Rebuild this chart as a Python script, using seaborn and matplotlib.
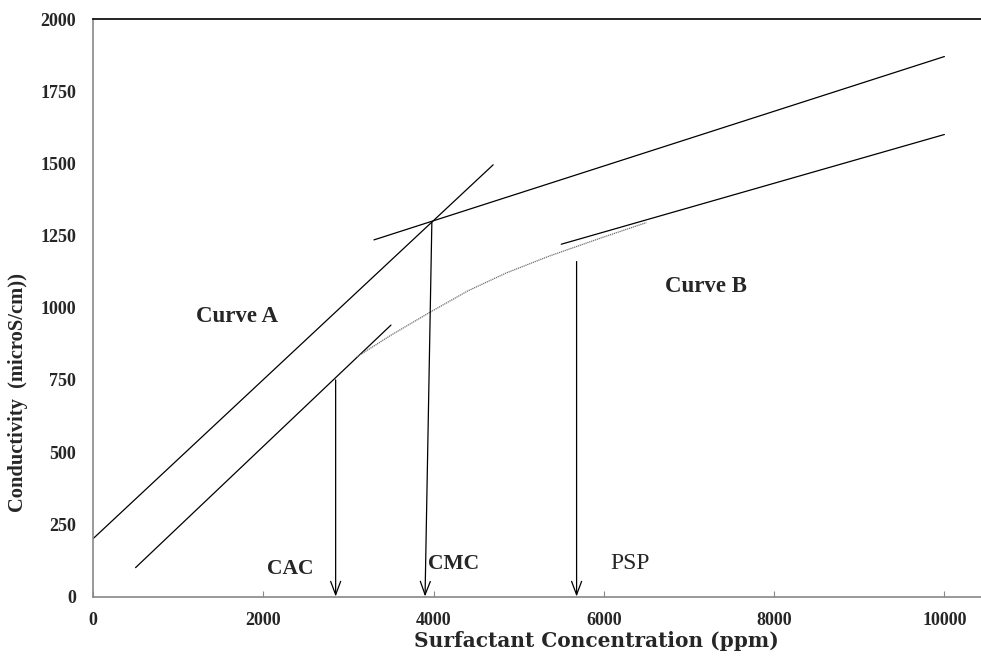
import matplotlib
matplotlib.use("Agg")
import matplotlib.pyplot as plt
import seaborn as sns
import pandas as pd

sns.set_theme(style="white")
plt.rcParams["font.family"] = ["Liberation Serif", "DejaVu Serif"]

# Straight-line fits of the conductivity data
curve_a_upper_x = [0, 4700]
curve_a_upper_y = [200, 1495]
curve_a_lower_x = [500, 3500]
curve_a_lower_y = [100, 940]
post_cmc_x = [3300, 10000]
post_cmc_y = [1235, 1870]
curve_b_x = [5500, 10000]
curve_b_y = [1220, 1600]

# Gradual transition of curve B between CAC and PSP
transition_x = [3100, 3500, 3950, 4400, 4850, 5350, 5950, 6500]
transition_y = [830, 905, 983, 1058, 1120, 1178, 1240, 1295]

# Characteristic concentrations (ppm): arrow start (x, y) and end x
cac_x, cac_top = 2850, 750
cmc_x_top, cmc_top, cmc_x_bottom = 3980, 1296, 3900
psp_x, psp_top = 5680, 1160

x_ticks = [0, 2000, 4000, 6000, 8000, 10000]
y_ticks = [0, 250, 500, 750, 1000, 1250, 1500, 1750, 2000]

fig = plt.figure(figsize=(9.81, 6.56), dpi=100)
ax = fig.add_axes([93 / 981, 1 - 596.5 / 656, 1 - 93 / 981, (596.5 - 19) / 656])

solid = dict(color="black", linewidth=0.9, estimator=None, sort=False)
for xs, ys in [(curve_a_upper_x, curve_a_upper_y),
               (curve_a_lower_x, curve_a_lower_y),
               (post_cmc_x, post_cmc_y),
               (curve_b_x, curve_b_y)]:
    sns.lineplot(data=pd.DataFrame({"x": xs, "y": ys}), x="x", y="y", ax=ax, **solid)

sns.lineplot(data=pd.DataFrame({"x": transition_x, "y": transition_y}), x="x", y="y",
             ax=ax, color="#707070", linewidth=0.9, linestyle=(0, (1, 0.6)),
             estimator=None, sort=False)

arrow_props = dict(arrowstyle="->,head_length=0.8,head_width=0.3",
                   color="black", linewidth=0.9, shrinkA=0, shrinkB=0)
ax.annotate("", xy=(cac_x, 0), xytext=(cac_x, cac_top), arrowprops=arrow_props)
ax.annotate("", xy=(cmc_x_bottom, 0), xytext=(cmc_x_top, cmc_top), arrowprops=arrow_props)
ax.annotate("", xy=(psp_x, 0), xytext=(psp_x, psp_top), arrowprops=arrow_props)

ax.text(1210, 951, "Curve A", fontsize=16.5, fontweight="bold", va="baseline")
ax.text(6718, 1055, "Curve B", fontsize=16.5, fontweight="bold", va="baseline")
ax.text(2043, 78, "CAC", fontsize=15.5, fontweight="bold", va="baseline")
ax.text(3934, 95, "CMC", fontsize=15.5, fontweight="bold", va="baseline")
ax.text(6072, 95, "PSP", fontsize=17, va="baseline")

ax.set_xlim(0, 10430)
ax.set_ylim(0, 2000)
ax.set_xticks(x_ticks)
ax.set_yticks(y_ticks)
ax.set_xticklabels([str(t) for t in x_ticks], fontsize=13, fontweight="bold")
ax.set_yticklabels([str(t) for t in y_ticks], fontsize=13, fontweight="bold")
ax.tick_params(axis="x", direction="in", length=4, width=0.8, color="#888888",
               pad=11, bottom=True)
ax.tick_params(axis="y", length=0, pad=12)

ax.set_xlabel("Surfactant Concentration (ppm)", fontsize=14.5, fontweight="bold",
              family=["DejaVu Serif"], va="center", ha="center")
ax.xaxis.set_label_coords((596 - 93) / 888, (596.5 - 641) / 577.5)
ax.set_ylabel("Conductivity  (microS/cm))", fontsize=14.8, fontweight="bold",
              va="center", ha="center")
ax.yaxis.set_label_coords((18 - 93) / 888, (596.5 - 392) / 577.5)

for side in ["left", "bottom"]:
    ax.spines[side].set_color("#888888")
    ax.spines[side].set_linewidth(1.2)
ax.spines["top"].set_color("black")
ax.spines["top"].set_linewidth(1.2)
ax.spines["right"].set_visible(False)
ax.grid(False)

fig.savefig("out.png", dpi=100)
